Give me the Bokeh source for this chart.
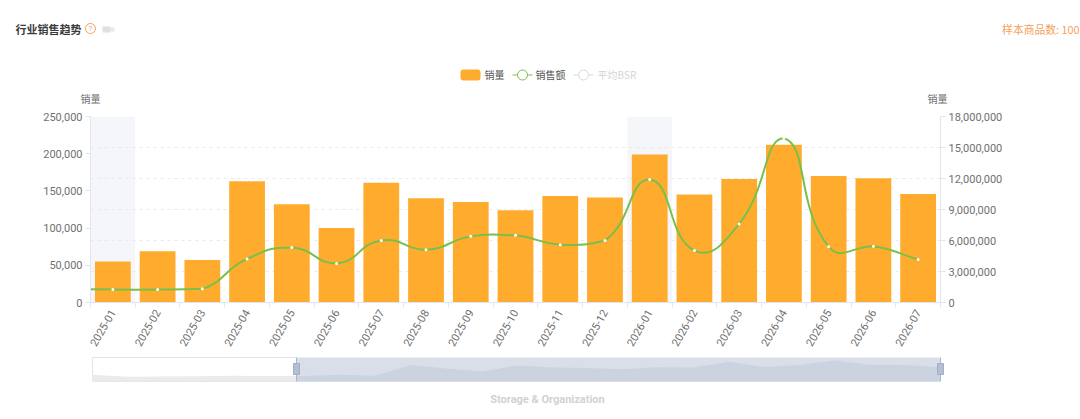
from bokeh.plotting import figure
from bokeh.layouts import column
from bokeh.embed import file_html
from bokeh.resources import INLINE
from bokeh.core.properties import value
from bokeh.models import Range1d, LinearAxis, FixedTicker, Grid, NumeralTickFormatter
import math

months = ["2025-01","2025-02","2025-03","2025-04","2025-05","2025-06","2025-07","2025-08","2025-09","2025-10",
          "2025-11","2025-12","2026-01","2026-02","2026-03","2026-04","2026-05","2026-06","2026-07"]
volume = [55000,69000,57000,163000,132000,100000,161000,140000,135000,124000,
          143000,141000,199000,145000,166000,212000,170000,167000,146000]
revenue = [1250000,1250000,1320000,4220000,5320000,3780000,6000000,5100000,6400000,6500000,
           5600000,6000000,11900000,5030000,7600000,15900000,5400000,5450000,4150000]
revenue_before = 1300000            # month just left of the visible window
volume_before = [68000,48000,50000,54000,57000,56000]  # months left of the zoom window
highlighted = ["2025-01","2026-01"]
left_ticks = [0,50000,100000,150000,200000,250000]
right_ticks = [0,3000000,6000000,9000000,12000000,15000000,18000000]

CJK = "Noto Sans CJK SC"
NUM = "Roboto"
AXIS = "#e0e6f1"
TXT = "#707070"
W = 1080
HEAD_H = 105         # header strip: page y 0..105
MAIN_BOTTOM = 360    # main canvas ends here on the page
NAV_TOP = 351        # navigator canvas starts here (overlaps blank space of the main canvas)

# ---------- header: its frame is the whole canvas, ranges are page pixels
head = figure(width=W, height=HEAD_H, output_backend="svg", toolbar_location=None,
              x_range=Range1d(0, W), y_range=Range1d(HEAD_H, 0), x_axis_location=None, y_axis_location=None,
              min_border=0, outline_line_color=None, frame_align=False)
head.grid.visible = False
def htext(x, y, t, color=TXT, size="11px", font=CJK, align="left", style="normal"):
    head.text(x=[x], y=[y], text=[t], text_color=color, text_font=value(font), text_font_size=size,
              text_align=align, text_baseline="middle", text_font_style=style)

htext(15, 28, "行业销售趋势", "#3a3a3a", "11px", style="bold")
head.scatter([90], [28], size=10, fill_color="white", line_color="#f0a35e", line_width=1)
htext(90, 28, "?", "#f0a35e", "8px", NUM, "center")
head.quad(left=[102], right=[110], top=[26], bottom=[32], fill_color="#e0e0e0", line_color=None)
head.quad(left=[110], right=[114], top=[27], bottom=[31], fill_color="#e8e8e8", line_color=None)
htext(1079, 28, "样本商品数: 100", "#f5a25d", "10.8px", align="right")

head.quad(left=[460], right=[480], top=[69], bottom=[80], fill_color="#ffac2e", line_color=None, border_radius=3)
htext(484, 74, "销量", "#555555", "10px")
head.line([512, 532], [74.5, 74.5], line_color="#78c04a", line_width=1)
head.scatter([522], [74.5], size=10, fill_color="white", line_color="#78c04a", line_width=1)
htext(535, 74, "销售额", "#555555", "10px")
head.line([573, 593], [74.5, 74.5], line_color="#d9d9d9", line_width=1)
head.scatter([583], [74.5], size=10, fill_color="white", line_color="#d9d9d9", line_width=1)
htext(597, 74, "平均BSR", "#d4d4d4", "10px")
htext(90, 98, "销量", TXT, "10px", align="center")
htext(937, 98, "销量", TXT, "10px", align="center")

# ---------- main chart
p = figure(width=W, height=MAIN_BOTTOM-HEAD_H, output_backend="svg", toolbar_location=None,
           x_range=Range1d(-0.5, 18.5), y_range=Range1d(0, 250000),
           min_border_left=90, min_border_right=W-940, min_border_top=116-HEAD_H, min_border_bottom=MAIN_BOTTOM-302,
           outline_line_color=None, background_fill_color="white", border_fill_color="white", frame_align=False)
p.extra_y_ranges = {"rev": Range1d(0, 18000000)}
p.xgrid.visible = False
p.ygrid.visible = False

idx = list(range(len(months)))
for m in highlighted:
    i = months.index(m)
    p.quad(left=i-0.5, right=i+0.5, bottom=0, top=250000, fill_color="#f4f6fa", line_color=None, level="underlay")

p.xaxis.ticker = FixedTicker(ticks=idx, minor_ticks=[i-0.5 for i in idx]+[18.5])
p.xaxis.major_label_overrides = {i: m for i, m in enumerate(months)}
p.xaxis.major_label_orientation = math.radians(60)
p.xaxis.major_tick_line_color = None
p.xaxis.minor_tick_out = 5
p.xaxis.minor_tick_in = 0
p.xaxis.minor_tick_line_color = AXIS
p.xaxis.axis_line_color = AXIS
p.xaxis.major_label_text_color = TXT
p.xaxis.major_label_text_font = NUM
p.xaxis.major_label_text_font_size = "11px"
p.xaxis.major_label_standoff = 2

p.yaxis.ticker = FixedTicker(ticks=left_ticks)
p.yaxis.formatter = NumeralTickFormatter(format="0,0")
right = LinearAxis(y_range_name="rev", ticker=FixedTicker(ticks=right_ticks),
                   formatter=NumeralTickFormatter(format="0,0"))
p.add_layout(right, "right")
for ax in (p.yaxis[0], right):
    ax.minor_tick_line_color = None
    ax.major_tick_in = 0
    ax.major_tick_out = 5
    ax.major_tick_line_color = AXIS
    ax.axis_line_color = AXIS
    ax.major_label_text_color = TXT
    ax.major_label_text_font = NUM
    ax.major_label_text_font_size = "11px"
    ax.major_label_standoff = 3

p.add_layout(Grid(dimension=1, axis=right, y_range_name="rev", grid_line_color="#e6e9f0",
                  grid_line_dash="3 4", grid_line_width=1))

p.vbar(x=idx, top=volume, width=0.8, bottom=0, fill_color="#ffac2e", line_color=None)

# ECharts-style smoothing; the control point arriving at a value stays between its neighbours
xs = [-1] + idx
ys = [revenue_before] + revenue
PX, PY = 44.74, 186/18000000
S = 0.5
n = len(xs)
def dist(a, b):
    return math.hypot((xs[a]-xs[b])*PX, (ys[a]-ys[b])*PY)
def clamp(v, a, b):
    return max(min(a, b), min(max(a, b), v))
cin, cout = [], []
for k in range(n):
    a, b = max(k-1, 0), min(k+1, n-1)
    vx, vy = (xs[b]-xs[a])*S, (ys[b]-ys[a])*S
    d0, d1 = dist(k, a), dist(k, b)
    t = d0+d1 if d0+d1 else 1
    cin.append((xs[k]-vx*d0/t, clamp(ys[k]-vy*d0/t, ys[a], ys[k])))
    cout.append((xs[k]+vx*d1/t, ys[k]+vy*d1/t))
p.bezier(x0=xs[:-1], y0=ys[:-1], x1=xs[1:], y1=ys[1:],
         cx0=[c[0] for c in cout[:-1]], cy0=[c[1] for c in cout[:-1]],
         cx1=[c[0] for c in cin[1:]], cy1=[c[1] for c in cin[1:]],
         y_range_name="rev", line_color="#78c04a", line_width=2)
p.scatter(idx, revenue, y_range_name="rev", size=3, fill_color="white", line_color=None)

# ---------- navigator: its frame is the whole canvas; the earliest month sits at page x 92, the last at 940
NAV_H = 419-NAV_TOP
nb = len(volume_before)
UX = (nb+18)/(940-92)      # month units per pixel
UY = 242000/(381-357)      # volume units per pixel
def nx(px): return (px-92)*UX-nb
def ny(py): return (381-py)*UY
WIN = nx(296)
mini = figure(width=W, height=NAV_H, output_backend="svg", toolbar_location=None,
              x_range=Range1d(nx(0), nx(W)), y_range=Range1d(ny(419), ny(NAV_TOP)),
              x_axis_location=None, y_axis_location=None, min_border=0, outline_line_color=None,
              background_fill_color="white", border_fill_color="white", frame_align=False, margin=(NAV_TOP-MAIN_BOTTOM, 0, 0, 0))
mini.grid.visible = False
mx = list(range(-nb, 0)) + idx
my = volume_before + volume
mini.quad(left=[-nb], right=[WIN], bottom=[0], top=[ny(357)], fill_color="white", line_color="#dfe3ea", line_width=1)
mini.varea(x=mx, y1=[0]*len(mx), y2=my, fill_color="#ebebeb")
mini.quad(left=[WIN], right=[18], bottom=[0], top=[ny(357)], fill_color="#d9dfe9", line_color=None)
at_win = volume_before[-1] + (volume[0]-volume_before[-1])*(WIN+1)   # edge of the shape at the window border
sx = [WIN] + idx
sy = [at_win] + volume
mini.varea(x=sx, y1=[0]*len(sx), y2=sy, fill_color="#cbd3e0")
for xv in (WIN, 18):
    mini.line(x=[xv, xv], y=[0, ny(357)], line_color="#a9b7cf", line_width=1)
    mini.quad(left=[xv-3*UX], right=[xv+3*UX], bottom=[ny(374)], top=[ny(363)], fill_color="#b4bfd2", line_color="#a0aec6", line_width=1)
mini.text(x=[nx(547)], y=[ny(399)], text=["Storage & Organization"], text_color="#cfd2d6", text_font=value("Roboto"),
          text_font_size="11px", text_font_style="bold", text_align="center", text_baseline="middle")

out = column(head, p, mini, spacing=0)
open("out.html", "w").write(file_html(out, INLINE))
